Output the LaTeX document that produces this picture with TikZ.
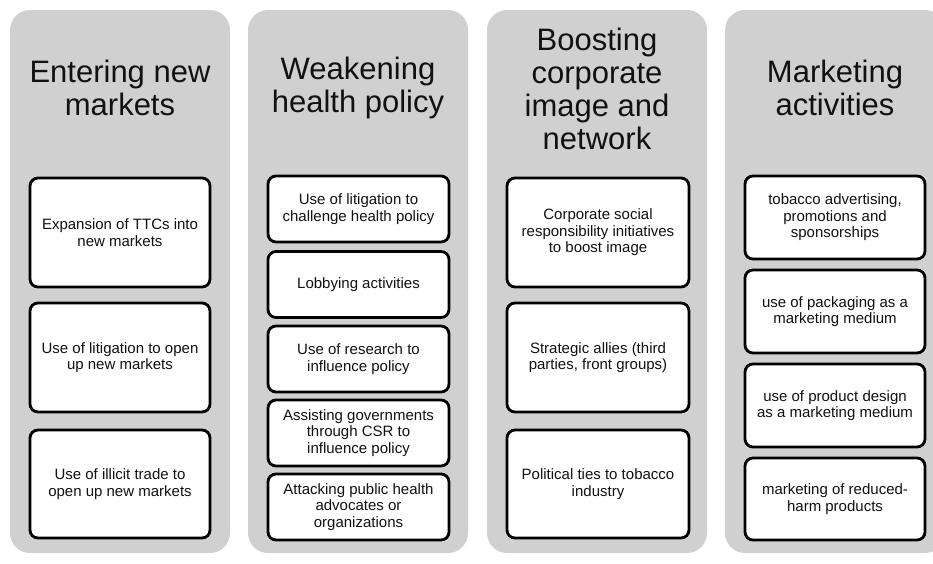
\documentclass[tikz,border=0pt]{standalone}
\usepackage{fontspec}
\setmainfont{Liberation Sans}
\definecolor{colgray}{HTML}{D0D0D0}
\definecolor{inkblack}{HTML}{111111}

\begin{document}
\begin{tikzpicture}[x=1pt, y=-1pt]
                    \tikzset{column/.style={fill=colgray, rounded corners=20pt, minimum width=220pt, minimum height=543pt, inner sep=0pt},
                             heading/.style={align=center, text=inkblack, font=\fontsize{31}{33}\selectfont},
                             item/.style={draw=black, line width=2.8pt, fill=white, rounded corners=8pt, align=center, text=inkblack,
                                          font=\fontsize{15}{16.5}\selectfont, inner sep=0pt, minimum width=180pt}}
                    \useasboundingbox (0, 0) rectangle (933, 563);

                    % grey columns
                    \node[column] (C1) at (120, 281.5) {};
                    \node[column] (C2) at (358, 281.5) {};
                    \node[column] (C3) at (597, 281.5) {};
                    \node[column] (C4) at (835, 281.5) {};

                    % headings
                    \node[heading] (H1) at (120, 88) {Entering new\\markets};
                    \node[heading] (H2) at (358, 88) {Weakening\\health policy};
                    \node[heading] (H3) at (597, 89) {Boosting\\corporate\\image and\\network};
                    \node[heading] (H4) at (835, 88) {Marketing\\activities};

                    % entering new markets
                    \node[item, minimum height=109pt] (E1) at (120, 232.5) {Expansion of TTCs into\\new markets};
                    \node[item, minimum height=109pt] (E2) at (120, 357.5) {Use of litigation to open\\up new markets};
                    \node[item, minimum height=108pt] (E3) at (120, 484) {Use of illicit trade to\\open up new markets};

                    % weakening health policy
                    \node[item, minimum height=66pt, minimum width=181pt] (W1) at (358.5, 209) {Use of litigation to\\challenge health policy};
                    \node[item, minimum height=66pt, minimum width=181pt] (W2) at (358.5, 284.5) {Lobbying activities};
                    \node[item, minimum height=66pt, minimum width=181pt] (W3) at (358.5, 359) {Use of research to\\influence policy};
                    \node[item, minimum height=66pt, minimum width=181pt] (W4) at (358.5, 433) {Assisting governments\\through CSR to\\influence policy};
                    \node[item, minimum height=66pt, minimum width=181pt] (W5) at (358.5, 507) {Attacking public health\\advocates or\\organizations};

                    % boosting corporate image
                    \node[item, minimum height=109pt, minimum width=182pt] (B1) at (598, 232.5) {Corporate social\\responsibility initiatives\\to boost image};
                    \node[item, minimum height=109pt, minimum width=182pt] (B2) at (598, 357.5) {Strategic allies (third\\parties, front groups)};
                    \node[item, minimum height=108pt, minimum width=182pt] (B3) at (598, 484) {Political ties to tobacco\\industry};

                    % marketing activities
                    \node[item, minimum height=83pt] (M1) at (835, 217.5) {tobacco advertising,\\promotions and\\sponsorships};
                    \node[item, minimum height=83pt] (M2) at (835, 311.5) {use of packaging as a\\marketing medium};
                    \node[item, minimum height=83pt] (M3) at (835, 405.5) {use of product design\\as a marketing medium};
                    \node[item, minimum height=82pt] (M4) at (835, 499) {marketing of reduced-\\harm products};
                \end{tikzpicture}
\end{document}
